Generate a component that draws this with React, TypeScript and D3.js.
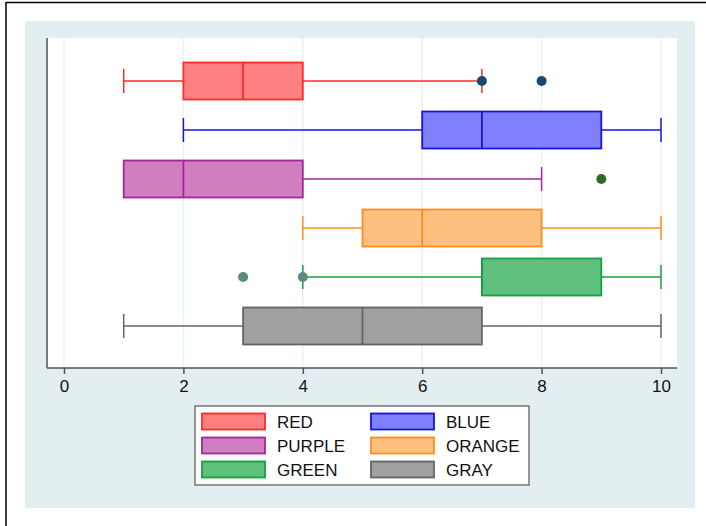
import React, { useEffect, useRef } from "react";
import * as d3 from "d3";

// groups, top to bottom
const groups = ["RED", "BLUE", "PURPLE", "ORANGE", "GREEN", "GRAY"];
const lowerWhisker = [1, 2, 1, 4, 4, 1];
const q1 = [2, 6, 1, 5, 7, 3];
const median = [3, 7, 2, 6, 7, 5];
const q3 = [4, 9, 4, 8, 9, 7];
const upperWhisker = [7, 10, 8, 10, 10, 10];
const outliers = [[7, 8], [], [9], [], [3, 4], []];

const fills = ["#ff8080", "#8080ff", "#d17ec0", "#ffbf80", "#5ec07c", "#a0a0a0"];
const strokes = ["#ff2a2a", "#1414e0", "#a0279a", "#ff8c1e", "#14a03c", "#646464"];
const dotColors = ["#1a476f", "#1a476f", "#2d6e1e", "#1a476f", "#5b8a7f", "#1a476f"];

const xTicks = [0, 2, 4, 6, 8, 10];

export default function App() {
  const ref = useRef<SVGSVGElement>(null);

  useEffect(() => {
    const svg = d3.select(ref.current);
    svg.selectAll("*").remove();
    const font = "Liberation Sans, Arial, Helvetica, sans-serif";

    // outer frame
    svg.append("rect").attr("x", 0).attr("y", 0).attr("width", 706).attr("height", 526).attr("fill", "#fff");
    svg.append("line").attr("x1", 6).attr("x2", 6).attr("y1", 2).attr("y2", 526).attr("stroke", "#000").attr("stroke-width", 1.5);
    svg.append("line").attr("x1", 6).attr("x2", 706).attr("y1", 2.5).attr("y2", 2.5).attr("stroke", "#000").attr("stroke-width", 1.5);

    // light blue graph region
    svg.append("rect").attr("x", 25).attr("y", 21).attr("width", 670).attr("height", 487).attr("fill", "#e3eef1");

    const left = 47, right = 677, top = 38, bottom = 368;
    svg.append("rect").attr("x", left).attr("y", top).attr("width", right - left).attr("height", bottom - top).attr("fill", "#fff");

    const x = d3.scaleLinear().domain([0, 10]).range([64, 661]);
    const y = d3.scalePoint<string>().domain(groups).range([81, 326]);
    const boxH = 37;
    const capH = 24;

    // gridlines
    svg.append("g").selectAll("line").data(xTicks).enter().append("line")
      .attr("x1", d => x(d)).attr("x2", d => x(d))
      .attr("y1", top).attr("y2", bottom)
      .attr("stroke", "#ebf2f4").attr("stroke-width", 1.5);

    // axes
    const xAxis = svg.append("g").attr("transform", `translate(0,${bottom})`)
      .call(d3.axisBottom(x).tickValues(xTicks).tickSize(6).tickPadding(6).tickFormat(d3.format("d")));
    xAxis.select(".domain").attr("d", `M${left},0H${right}`).attr("stroke", "#555").attr("stroke-width", 1.5);
    xAxis.selectAll(".tick line").attr("stroke", "#555").attr("stroke-width", 1.5);
    xAxis.selectAll("text").attr("font-family", font).attr("font-size", 17).attr("fill", "#111");

    svg.append("line").attr("x1", left).attr("x2", left).attr("y1", top).attr("y2", bottom)
      .attr("stroke", "#555").attr("stroke-width", 1.5);

    // boxes
    groups.forEach((g, i) => {
      const cy = y(g) as number;
      const row = svg.append("g");
      // whiskers
      row.append("line").attr("x1", x(lowerWhisker[i])).attr("x2", x(q1[i])).attr("y1", cy).attr("y2", cy)
        .attr("stroke", strokes[i]).attr("stroke-width", 1.5);
      row.append("line").attr("x1", x(q3[i])).attr("x2", x(upperWhisker[i])).attr("y1", cy).attr("y2", cy)
        .attr("stroke", strokes[i]).attr("stroke-width", 1.5);
      [lowerWhisker[i], upperWhisker[i]].forEach(v => {
        if (v === q1[i] || v === q3[i]) return;
        row.append("line").attr("x1", x(v)).attr("x2", x(v)).attr("y1", cy - capH / 2).attr("y2", cy + capH / 2)
          .attr("stroke", strokes[i]).attr("stroke-width", 1.5);
      });
      // box
      row.append("rect").attr("x", x(q1[i])).attr("y", cy - boxH / 2)
        .attr("width", x(q3[i]) - x(q1[i])).attr("height", boxH)
        .attr("fill", fills[i]).attr("stroke", strokes[i]).attr("stroke-width", 1.8);
      row.append("line").attr("x1", x(median[i])).attr("x2", x(median[i]))
        .attr("y1", cy - boxH / 2).attr("y2", cy + boxH / 2)
        .attr("stroke", strokes[i]).attr("stroke-width", 1.8);
      // outliers
      row.selectAll("circle").data(outliers[i]).enter().append("circle")
        .attr("cx", d => x(d)).attr("cy", cy).attr("r", 5)
        .attr("fill", dotColors[i]);
    });

    // legend
    const lg = svg.append("g").attr("transform", "translate(195,406)");
    lg.append("rect").attr("width", 334).attr("height", 79).attr("fill", "#fff")
      .attr("stroke", "#555").attr("stroke-width", 1.2);
    groups.forEach((g, i) => {
      const col = i % 2;
      const rowI = Math.floor(i / 2);
      const lx = col === 0 ? 7 : 176;
      const ly = 7.5 + rowI * 24;
      lg.append("rect").attr("x", lx).attr("y", ly).attr("width", 63).attr("height", 16)
        .attr("fill", fills[i]).attr("stroke", strokes[i]).attr("stroke-width", 1.8);
      lg.append("text").attr("x", lx + 75).attr("y", ly + 14.5).text(g)
        .attr("font-family", font).attr("font-size", 17).attr("fill", "#111");
    });
  }, []);

  return (
    <svg ref={ref} width={706} height={526}
      style={{ position: "absolute", left: 0, top: 0, display: "block" }} />
  );
}
